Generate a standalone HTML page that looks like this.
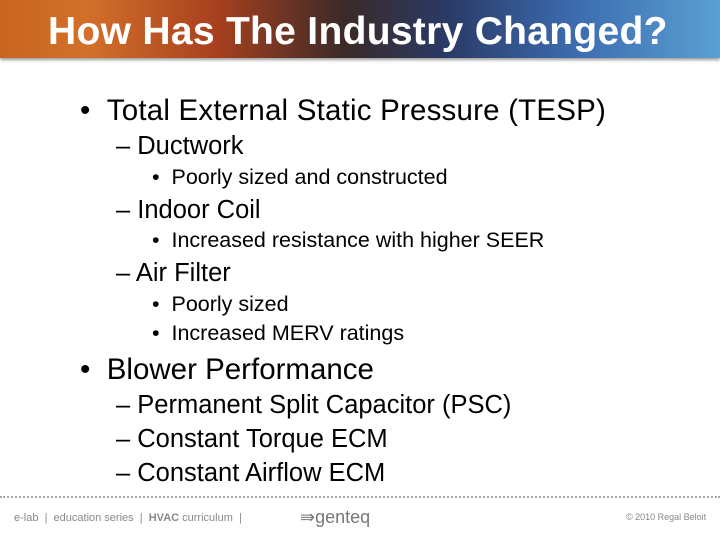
<!DOCTYPE html>
<html><head><meta charset="utf-8"><style>
body{margin:0;width:720px;height:540px;background:#fff;position:relative;overflow:hidden;font-family:"Liberation Sans",sans-serif}
#bar{position:absolute;left:0;top:0;width:720px;height:58px;background:linear-gradient(90deg,#c8641e 0%,#d2702a 12%,#a8401e 30%,#3a2a28 48%,#2a3a66 62%,#3c6cb0 80%,#5aa0d2 100%);box-shadow:0 2px 3px #999}
#title{position:absolute;left:48px;top:10px;font-size:39px;font-weight:bold;color:#fff;white-space:nowrap;letter-spacing:0.3px}
.t{position:absolute;white-space:nowrap;color:#000}
.l1{font-size:29.5px}.l2{font-size:25.5px}.l3{font-size:21.5px}
#dots{position:absolute;left:0;top:496px;width:720px;border-top:2px dotted #aaa}
.f{position:absolute;top:512px;font-size:11px;color:#888;white-space:nowrap}
</style></head><body>
<div id="bar"></div>
<div id="title">How Has The Industry Changed?</div>
<div class="t l1" style="left:80px;top:94px;letter-spacing:0.2px">•&nbsp; Total External Static Pressure (TESP)</div>
<div class="t l2" style="left:116px;top:132px">– Ductwork</div>
<div class="t l3" style="left:152px;top:165px">•&nbsp; Poorly sized and constructed</div>
<div class="t l2" style="left:116px;top:196px">– Indoor Coil</div>
<div class="t l3" style="left:152px;top:228px">•&nbsp; Increased resistance with higher SEER</div>
<div class="t l2" style="left:116px;top:259px">– Air Filter</div>
<div class="t l3" style="left:152px;top:292px">•&nbsp; Poorly sized</div>
<div class="t l3" style="left:152px;top:321px">•&nbsp; Increased MERV ratings</div>
<div class="t l1" style="left:80px;top:353px">•&nbsp; Blower Performance</div>
<div class="t l2" style="left:116px;top:391px">– Permanent Split Capacitor (PSC)</div>
<div class="t l2" style="left:116px;top:425px">– Constant Torque ECM</div>
<div class="t l2" style="left:116px;top:459px">– Constant Airflow ECM</div>
<div id="dots"></div>
<div class="f" style="left:14px">e-lab &nbsp;| &nbsp;education series &nbsp;| &nbsp;<b>HVAC</b> curriculum &nbsp;|</div>
<div class="f" style="left:300px;top:507px;font-size:18px;color:#777">⇛genteq</div>
<div class="f" style="left:626px;font-size:9px">© 2010 Regal Beloit</div>
</body></html>
